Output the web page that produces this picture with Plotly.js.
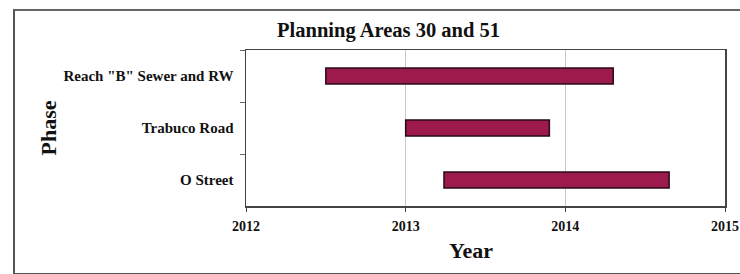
<!DOCTYPE html>
<html>
<head>
<meta charset="utf-8">
<script src="https://cdn.plot.ly/plotly-3.0.1.min.js"></script>
<style>
  html, body { margin: 0; padding: 0; background: #fff; }
  #wrap { position: relative; width: 740px; height: 274px; }
  #chart { width: 740px; height: 274px; }
  #frame { position: absolute; left: 13px; top: 9px; width: 740px; height: 262px;
           border-left: 2px solid #555; border-top: 2px solid #666; border-bottom: 2px solid #555; pointer-events: none; }
</style>
</head>
<body>
<div id="wrap">
  <div id="chart"></div>
  <div id="frame"></div>
</div>
<script>
const phases = ['Reach "B" Sewer and RW', 'Trabuco Road', 'O Street'];
const startYear = [2012.50, 2013.00, 2013.24];
const endYear = [2014.30, 2013.90, 2014.65];
const xTicks = [2012, 2013, 2014, 2015];

const durations = endYear.map((e, i) => e - startYear[i]);

const font = 'Liberation Serif, Times New Roman, serif';

const trace = {
  type: 'bar',
  orientation: 'h',
  y: phases,
  x: durations,
  base: startYear,
  width: 0.31,
  marker: { color: '#9c1a4c', line: { color: '#2a0a16', width: 1.5 } },
  hoverinfo: 'skip'
};

const layout = {
  width: 740,
  height: 274,
  margin: { l: 246, r: 15, t: 50, b: 68 },
  paper_bgcolor: '#fff',
  plot_bgcolor: '#fff',
  showlegend: false,
  title: {
    text: '<b>Planning Areas 30 and 51</b>',
    font: { family: font, size: 20.5, color: '#111' },
    xref: 'container', x: 0.525, xanchor: 'center',
    yref: 'container', y: 0.89, yanchor: 'middle'
  },
  xaxis: {
    range: [2012, 2015],
    tickvals: xTicks,
    ticktext: xTicks.map(v => '<b>' + v + '</b>'),
    tickfont: { family: font, size: 14, color: '#111' },
    ticks: 'outside', ticklen: 4, tickcolor: '#444',
    ticklabelstandoff: 3,
    showgrid: true, gridcolor: '#c8c8c8', gridwidth: 1,
    showline: true, linecolor: '#444', linewidth: 1.5, mirror: true,
    zeroline: false
  },
  yaxis: {
    type: 'category',
    categoryorder: 'array',
    categoryarray: phases,
    autorange: 'reversed',
    tickfont: { family: font, size: 15, color: '#111' },
    tickprefix: '<b>', ticksuffix: '</b>',
    ticks: 'outside', ticklen: 5, tickcolor: '#666',
    ticklabelstandoff: 8,
    tickson: 'boundaries',
    showgrid: false,
    showline: true, linecolor: '#444', linewidth: 1.5, mirror: true,
    title: { text: '<b>Phase</b>', font: { family: font, size: 22, color: '#111' }, standoff: 1 }
  },
  annotations: [{
    text: '<b>Year</b>',
    font: { family: font, size: 22, color: '#111' },
    xref: 'paper', yref: 'paper',
    x: (471 - 246) / 479, y: 0,
    xanchor: 'center', yanchor: 'middle',
    yshift: -44, showarrow: false
  }]
};

Plotly.newPlot('chart', [trace], layout, { displayModeBar: false, staticPlot: true });
</script>
</body>
</html>
